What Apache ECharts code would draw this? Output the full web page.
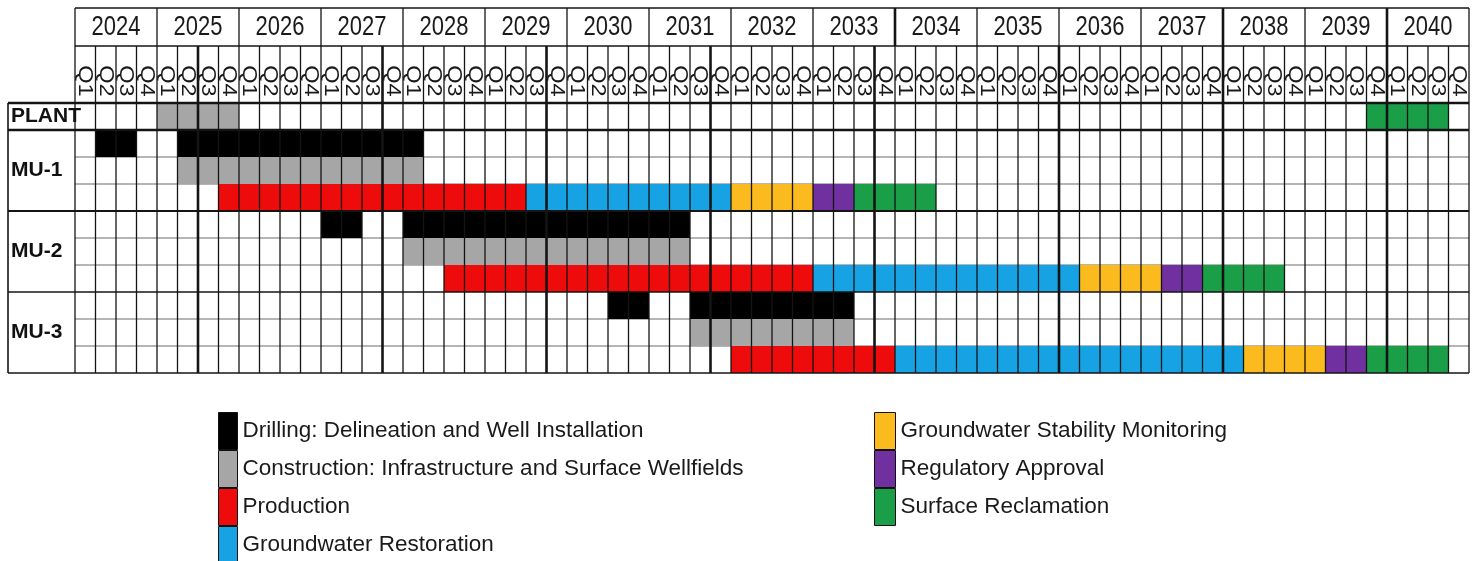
<!DOCTYPE html>
<html><head><meta charset="utf-8">
<script src="https://cdn.jsdelivr.net/npm/echarts@6/dist/echarts.min.js"></script>
<style>html,body{margin:0;padding:0;background:#fff}#c{width:1476px;height:561px}</style>
</head><body><div id="c"></div>
<script>
// ---------------- data ----------------
const years = [2024,2025,2026,2027,2028,2029,2030,2031,2032,2033,2034,2035,2036,2037,2038,2039,2040];
const quarterLabels = ['Q1','Q2','Q3','Q4'];
const rowLabels = ['PLANT','','MU-1','','','MU-2','','','MU-3',''];
const phaseNames = [
  'Drilling: Delineation and Well Installation',
  'Construction: Infrastructure and Surface Wellfields',
  'Production',
  'Groundwater Restoration',
  'Groundwater Stability Monitoring',
  'Regulatory Approval',
  'Surface Reclamation'
];
// tasks: [row, first quarter index, last quarter index]  (quarter 0 = 2024 Q1)
const drilling     = [[1,1,2],[1,5,16],[4,12,13],[4,16,29],[7,26,27],[7,30,37]];
const construction = [[0,4,7],[2,5,16],[5,16,29],[8,30,37]];
const production   = [[3,7,21],[6,18,35],[9,32,39]];
const restoration  = [[3,22,31],[6,36,48],[9,40,56]];
const stability    = [[3,32,35],[6,49,52],[9,57,60]];
const approval     = [[3,36,37],[6,53,54],[9,61,62]];
const reclamation  = [[0,63,66],[3,38,41],[6,55,58],[9,63,66]];
const heavyColumns = [6,15,23,31,39,48,56,64];
const heavyYearColumns = [40,56,64];
const groupBorders = [0,1,4,7,10];

// ---------------- styles / layout ----------------
const phaseColors = ['#000000','#a6a6a6','#ee0b0b','#17a3e3','#fbbb1f','#7030a0','#1b9e48'];
const groupBorderWidths = [2.5,2.5,2.2,1.6,1.6];
const SANS = '"Liberation Sans",Arial,sans-serif';
const YEAR_H = 38, Q_H = 57, LABEL_LEFT = 8;

const nQuarters = years.length * quarterLabels.length;
const phaseData = [drilling, construction, production, restoration, stability, approval, reclamation];

function renderTask(params, api) {
  const row = api.value(0), s = api.value(1), e = api.value(2);
  const p0 = api.coord([s, row]);
  const p1 = api.coord([e + 1, row + 1]);
  return {type:'rect', shape:{x:p0[0], y:p0[1], width:p1[0]-p0[0], height:p1[1]-p0[1]},
          style:{fill: api.visual('color')}};
}
function renderVLine(params, api) {
  const k = api.value(0), cs = params.coordSys;
  const x = api.coord([k, 0])[0];
  const ch = [{type:'line', shape:{x1:x, y1:cs.y - Q_H, x2:x, y2:cs.y + cs.height},
               style:{stroke:'#141414', lineWidth: heavyColumns.includes(k) ? 2.6 : 1.3}}];
  if (k % 4 === 0) {
    ch.push({type:'line', shape:{x1:x, y1:cs.y - Q_H - YEAR_H, x2:x, y2:cs.y - Q_H},
             style:{stroke:'#141414', lineWidth: heavyYearColumns.includes(k) ? 2.6 : 1.3}});
  }
  return {type:'group', children: ch};
}
function renderInnerRow(params, api) {
  const b = api.value(0), cs = params.coordSys;
  const y = api.coord([0, b])[1];
  return {type:'line', shape:{x1:cs.x, y1:y, x2:cs.x + cs.width, y2:y},
          style:{stroke:'#9c9c9c', lineWidth:1.6}};
}
function renderGroupRow(params, api) {
  const b = api.value(0), cs = params.coordSys;
  const y = api.coord([0, b])[1];
  const ch = [{type:'line', shape:{x1:LABEL_LEFT, y1:y, x2:cs.x + cs.width, y2:y},
               style:{stroke:'#141414', lineWidth: groupBorderWidths[groupBorders.indexOf(b)]}}];
  if (b === 0) {
    ch.push({type:'line', shape:{x1:LABEL_LEFT, y1:cs.y, x2:LABEL_LEFT, y2:cs.y + cs.height},
             style:{stroke:'#141414', lineWidth:1.6}});
  }
  return {type:'group', children: ch};
}
function renderHeader(params, api) {
  const i = api.value(0), cs = params.coordSys;
  const x0 = api.coord([i * 4, 0])[0], x1 = api.coord([i * 4 + 4, 0])[0];
  const yTop = cs.y - Q_H - YEAR_H, yMid = cs.y - Q_H;
  const ch = [
    {type:'line', shape:{x1:x0, y1:yTop, x2:x1, y2:yTop}, style:{stroke:'#141414', lineWidth:1.6}},
    {type:'line', shape:{x1:x0, y1:yMid, x2:x1, y2:yMid}, style:{stroke:'#141414', lineWidth:1.3}},
    {type:'text', x:(x0 + x1) / 2, y:(yTop + yMid) / 2 + 1, scaleY:1.22,
     style:{text:String(years[i]), fill:'#1a1a1a', font:'22px ' + SANS, align:'center', verticalAlign:'middle'}}
  ];
  quarterLabels.forEach((q, j) => {
    const xc = api.coord([i * 4 + j + 0.5, 0])[0];
    ch.push({type:'text', x:xc, y:cs.y - 22, rotation:-Math.PI / 2, scaleX:1.12,
             style:{text:q, fill:'#1a1a1a', font:'21px ' + SANS, align:'center', verticalAlign:'middle'}});
  });
  return {type:'group', children: ch};
}

const series = phaseNames.map((name, i) => ({
  name, type:'custom', renderItem: renderTask, clip:false, z:2,
  itemStyle:{color: phaseColors[i]}, encode:{x:[1,2], y:0},
  data: phaseData[i], silent:true
}));
series.push({name:'innerRows', type:'custom', renderItem: renderInnerRow, clip:false, z:1, silent:true,
  data: Array.from({length: rowLabels.length + 1}, (_, b) => [b]).filter(d => !groupBorders.includes(d[0]))});
series.push({name:'columns', type:'custom', renderItem: renderVLine, clip:false, z:4, silent:true,
  data: Array.from({length: nQuarters + 1}, (_, k) => [k])});
series.push({name:'groupRows', type:'custom', renderItem: renderGroupRow, clip:false, z:5, silent:true,
  data: groupBorders.map(b => [b])});
series.push({name:'header', type:'custom', renderItem: renderHeader, clip:false, z:5, silent:true,
  data: years.map((y, i) => [i])});

const option = {
  animation:false,
  backgroundColor:'#ffffff',
  grid:{left:75, top:103, width:1394, height:270, outerBoundsMode:'none', containLabel:false},
  xAxis:{type:'value', min:0, max:nQuarters, show:false},
  yAxis:[
    {type:'value', min:0, max:rowLabels.length, inverse:true, show:false},
    {type:'category', data:rowLabels, inverse:true, position:'left',
     axisLine:{show:false}, axisTick:{show:false}, splitLine:{show:false},
     axisLabel:{interval:0, align:'left', margin:64, color:'#111', fontWeight:'bold', fontSize:21, fontFamily:SANS}}
  ],
  legend:[
    {data: phaseNames.slice(0,4), orient:'vertical', left:218, top:412, height:190, padding:0, itemGap:0,
     itemWidth:19, itemHeight:37, icon:'rect', selectedMode:false,
     itemStyle:{borderColor:'#111', borderWidth:1},
     textStyle:{fontSize:22.5, color:'#1a1a1a', fontFamily:SANS}},
    {data: phaseNames.slice(4), orient:'vertical', left:874, top:412, height:190, padding:0, itemGap:0,
     itemWidth:21, itemHeight:37, icon:'rect', selectedMode:false,
     itemStyle:{borderColor:'#111', borderWidth:1},
     textStyle:{fontSize:22.5, color:'#1a1a1a', fontFamily:SANS}}
  ],
  series
};
const chart = echarts.init(document.getElementById('c'), null, {renderer:'canvas'});
chart.setOption(option);
</script>
</body></html>
